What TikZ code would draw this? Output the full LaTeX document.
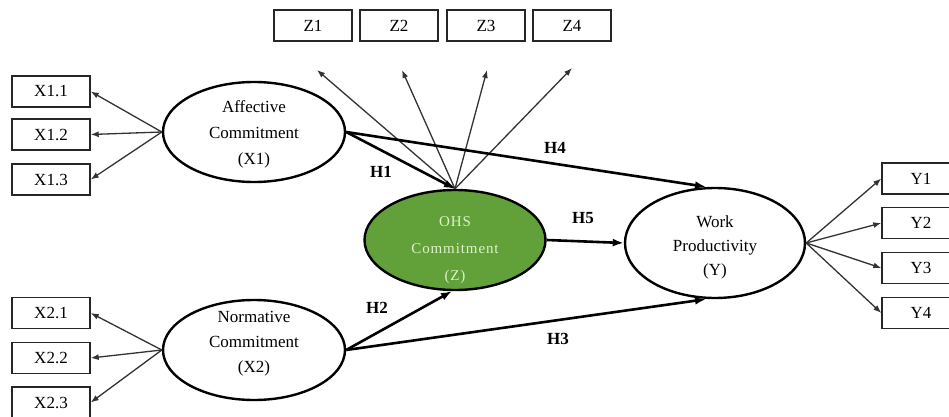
\documentclass[tikz,border=0pt]{standalone}
\usepackage{fontspec}
\setmainfont{Liberation Serif}
\usetikzlibrary{arrows.meta,shapes.geometric}
\definecolor{ohsgreen}{HTML}{62A03A}
\definecolor{ohstext}{HTML}{DDF2C8}
\tikzset{
  ind/.style={draw=black!85, rectangle, line width=1.4pt, minimum width=78pt, minimum height=31pt, inner sep=0pt, font=\fontsize{17}{20}\selectfont},
  lat/.style={draw=black, ellipse, line width=2.4pt, inner sep=0pt, fill=white},
  lattext/.style={align=center, inner sep=0pt, font=\fontsize{17}{26}\selectfont},
  thinarr/.style={draw=black!80, line width=1.3pt, -{Latex[length=8pt,width=6pt]}},
  patharr/.style={draw=black, line width=2.6pt, -{Latex[length=11pt,width=8pt]}},
  hlab/.style={font=\fontsize{17}{20}\selectfont\bfseries}
}
\begin{document}
\begin{tikzpicture}[x=1pt,y=-1pt]
\useasboundingbox[fill=white] (0,0) rectangle (949,417);
\begin{scope}
\clip (0,0) rectangle (949,417);
% indicator boxes
\node[ind] (z1) at (313,25.5) {Z1};
\node[ind] (z2) at (399,25.5) {Z2};
\node[ind] (z3) at (486,25.5) {Z3};
\node[ind] (z4) at (572,25.5) {Z4};
\node[ind] (x11) at (51,91.5) {X1.1};
\node[ind] (x12) at (51,134.5) {X1.2};
\node[ind] (x13) at (51,179.5) {X1.3};
\node[ind] (x21) at (51,313) {X2.1};
\node[ind] (x22) at (51,358) {X2.2};
\node[ind] (x23) at (51,402.5) {X2.3};
\node[ind] (y1) at (921,178.5) {Y1};
\node[ind] (y2) at (921,223) {Y2};
\node[ind] (y3) at (921,268) {Y3};
\node[ind] (y4) at (921,313) {Y4};
% latent variables
\node[lat, minimum width=182pt, minimum height=100pt] (aff) at (254,132) {};
\node[lat, minimum width=182pt, minimum height=100pt] (norm) at (254,350) {};
\node[lat, minimum width=181pt, minimum height=100pt, fill=ohsgreen] (ohs) at (455,240) {};
\node[lat, minimum width=180pt, minimum height=110pt] (work) at (715,243) {};
\node[lattext] (afft) at (254,134) {Affective\\Commitment\\(X1)};
\node[lattext, font=\fontsize{17}{25}\selectfont] (normt) at (254,344) {Normative\\Commitment\\(X2)};
\node[lattext, text=ohstext, font=\fontsize{15}{27}\selectfont\addfontfeatures{LetterSpace=6}] (ohst) at (455,250) {OHS\\Commitment\\(Z)};
\node[lattext, font=\fontsize{17}{24}\selectfont] (workt) at (715,247) {Work\\Productivity\\(Y)};
% free ends of the Z arrows
\coordinate (zt1) at (317,70);
\coordinate (zt2) at (402,70);
\coordinate (zt3) at (487,70);
\coordinate (zt4) at (572,68);
% reflective indicator arrows
\draw[thinarr] (aff.west) -- (x11.east);
\draw[thinarr] (aff.west) -- (x12.east);
\draw[thinarr] (aff.west) -- (x13.east);
\draw[thinarr] (norm.west) -- (x21.east);
\draw[thinarr] (norm.west) -- (x22.east);
\draw[thinarr] (norm.west) -- (x23.east);
\draw[thinarr] (work.east) -- (y1.west);
\draw[thinarr] (work.east) -- (y2.west);
\draw[thinarr] (work.east) -- (y3.west);
\draw[thinarr] (work.east) -- (y4.west);
\draw[thinarr] (ohs.north) -- (zt1);
\draw[thinarr] (ohs.north) -- (zt2);
\draw[thinarr] (ohs.north) -- (zt3);
\draw[thinarr] (ohs.north) -- (zt4);
% structural paths
\draw[patharr] (aff.east) -- (ohs.north);
\draw[patharr] (aff.east) -- ([xshift=-9pt]work.north);
\draw[patharr] (norm.east) -- ([xshift=-3pt]ohs.south);
\draw[patharr] (norm.east) -- ([xshift=-9pt]work.south);
\draw[patharr] (ohs.east) -- (work.west);
% path labels
\node[hlab] (h1) at (381,172) {H1};
\node[hlab] (h4) at (555,148) {H4};
\node[hlab] (h5) at (583,218) {H5};
\node[hlab] (h2) at (377,308) {H2};
\node[hlab] (h3) at (558,339) {H3};
\end{scope}
\end{tikzpicture}
\end{document}
